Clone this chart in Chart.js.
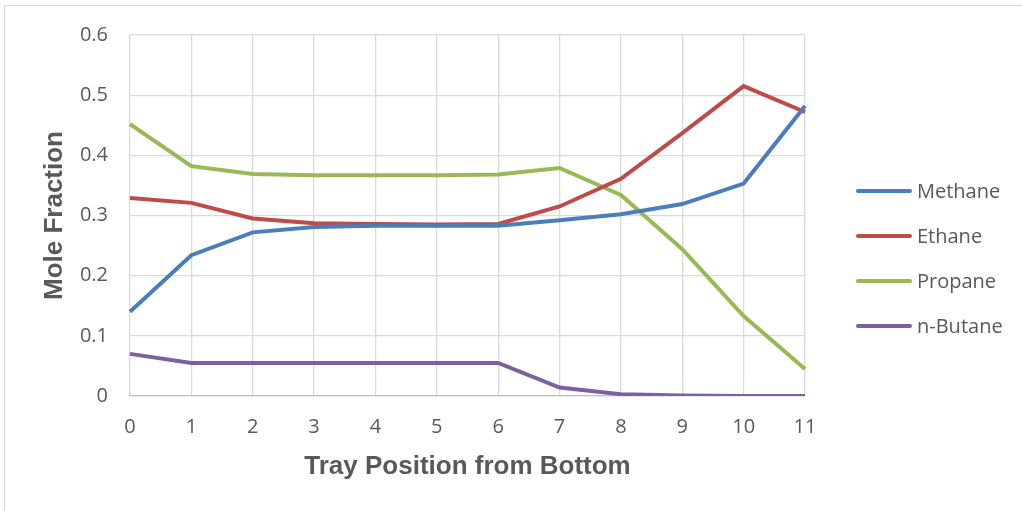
<!DOCTYPE html>
<html>
<head>
<meta charset="utf-8">
<script src="https://cdn.jsdelivr.net/npm/chart.js@4"></script>
<style>
  html, body { margin: 0; padding: 0; background: #fff; }
  #wrap { width: 1022px; height: 511px; position: relative; }
</style>
</head>
<body>
<div id="wrap"><canvas id="c" width="1022" height="511"></canvas></div>
<script>
// Tray positions counted from the bottom of the column
const trays = ['0', '1', '2', '3', '4', '5', '6', '7', '8', '9', '10', '11'];

// Liquid mole fractions on each tray
const methane = [0.140, 0.234, 0.272, 0.281, 0.283, 0.283, 0.283, 0.292, 0.302, 0.319, 0.353, 0.482];
const ethane  = [0.329, 0.321, 0.295, 0.287, 0.286, 0.285, 0.286, 0.315, 0.361, 0.437, 0.515, 0.472];
const propane = [0.452, 0.382, 0.369, 0.367, 0.367, 0.367, 0.368, 0.379, 0.334, 0.244, 0.133, 0.045];
const butane  = [0.070, 0.055, 0.055, 0.055, 0.055, 0.055, 0.055, 0.014, 0.003, 0.001, 0.000, 0.000];

const yTicks = [0, 0.1, 0.2, 0.3, 0.4, 0.5, 0.6];

const series = [
  { label: 'Methane',  data: methane, color: '#4A7EBB' },
  { label: 'Ethane',   data: ethane,  color: '#BE4B48' },
  { label: 'Propane',  data: propane, color: '#98B954' },
  { label: 'n-Butane', data: butane,  color: '#7D60A0' }
];

const textColor = '#595959';
const gridColor = '#D9D9D9';
const bodyFont = '"Open Sans", "Liberation Sans", sans-serif';
const titleFont = '"Liberation Sans", Arial, sans-serif';

// Legend drawn beside the plot, one short line per series
const sideLegend = {
  id: 'sideLegend',
  afterDraw(chart) {
    const ctx = chart.ctx;
    const x0 = 858, x1 = 910, tx = 917;
    const rowY = [191, 236, 281, 326];
    ctx.save();
    chart.data.datasets.forEach((ds, i) => {
      const y = rowY[i];
      ctx.strokeStyle = ds.borderColor;
      ctx.lineWidth = 4;
      ctx.lineCap = 'round';
      ctx.beginPath();
      ctx.moveTo(x0, y);
      ctx.lineTo(x1, y);
      ctx.stroke();
      ctx.fillStyle = textColor;
      ctx.font = '20px ' + bodyFont;
      ctx.textBaseline = 'middle';
      ctx.textAlign = 'left';
      ctx.fillText(ds.label, tx, y + 1);
    });
    ctx.restore();
  }
};

// Thin frame around the chart
const frame = {
  id: 'frame',
  beforeDraw(chart) {
    const ctx = chart.ctx;
    ctx.save();
    ctx.fillStyle = '#fff';
    ctx.fillRect(0, 0, chart.width, chart.height);
    ctx.strokeStyle = '#D9D9D9';
    ctx.lineWidth = 1;
    ctx.strokeRect(4.5, 5.5, chart.width + 10, chart.height + 10);
    ctx.restore();
  }
};

new Chart(document.getElementById('c'), {
  type: 'line',
  data: {
    labels: trays,
    datasets: series.map(s => ({
      label: s.label,
      data: s.data,
      borderColor: s.color,
      backgroundColor: s.color,
      borderWidth: 4,
      pointRadius: 0,
      tension: 0,
      fill: false
    }))
  },
  options: {
    responsive: false,
    animation: false,
    events: [],
    layout: { padding: { left: 0, right: 217, top: 35, bottom: 15 } },
    plugins: { legend: { display: false }, tooltip: { enabled: false } },
    scales: {
      x: {
        type: 'category',
        offset: false,
        grid: { color: gridColor, lineWidth: 1.3, drawTicks: false },
        border: { color: '#BFBFBF', width: 1.3 },
        ticks: { color: textColor, padding: 19, maxRotation: 0,
                 font: { family: bodyFont, size: 20 } },
        title: { display: true, text: 'Tray Position from Bottom', color: textColor,
                 padding: { top: 0, bottom: 14 },
                 font: { family: titleFont, size: 26, weight: 'bold' } },
        afterFit(scale) { scale.height = 100; }
      },
      y: {
        min: 0, max: 0.6,
        afterBuildTicks(scale) { scale.ticks = yTicks.map(v => ({ value: v })); },
        grid: { color: gridColor, lineWidth: 1.3, drawTicks: false },
        border: { display: false },
        ticks: { color: textColor, padding: 22,
                 callback: v => String(Math.round(v * 10) / 10),
                 font: { family: bodyFont, size: 20 } },
        title: { display: true, text: 'Mole Fraction', color: textColor,
                 padding: { top: 39, bottom: 0 },
                 font: { family: titleFont, size: 26, weight: 'bold' } },
        afterFit(scale) { scale.width = 130; }
      }
    }
  },
  plugins: [frame, sideLegend]
});
</script>
</body>
</html>
